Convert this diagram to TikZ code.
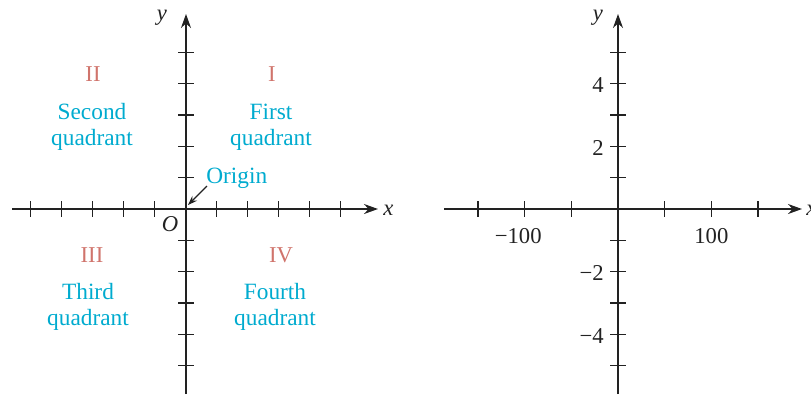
\documentclass[tikz,border=0pt]{standalone}
\usepackage{fontspec}
\setmainfont{Liberation Serif}
\usetikzlibrary{arrows.meta}
\definecolor{quadred}{HTML}{D0746C}
\definecolor{quadcyan}{HTML}{00ABCF}
\definecolor{axisgray}{HTML}{222222}
\begin{document}
\begin{tikzpicture}[x=0.75pt,y=-0.75pt,
 axis/.style={draw=axisgray,line width=1.2pt,-{Stealth[length=10.5pt,width=7.5pt]}},
 tickmark/.style={draw=axisgray,line width=1pt},
 roman/.style={text=quadred,font=\fontsize{17}{20}\selectfont,inner sep=0pt},
 qtext/.style={text=quadcyan,font=\fontsize{17.5}{19.5}\selectfont,align=center,inner sep=0pt},
 axlabel/.style={text=axisgray,font=\fontsize{17}{20}\selectfont\itshape,inner sep=0pt},
 numlabel/.style={text=axisgray,font=\fontsize{17}{20}\selectfont,inner sep=0pt}]
\useasboundingbox (0,0) rectangle (811,394);

% ---------- left plot ----------
\coordinate (Lxs) at (12,209);
\coordinate (Lxe) at (378,209);
\coordinate (Lys) at (186,394);
\coordinate (Lye) at (186,14);
\foreach \x in {30.5,61.5,92.5,123.5,154.5,216.5,247.5,278.5,309.5,340.5}
  \draw[tickmark] (\x,201) -- (\x,217);
\foreach \y in {52.5,83.8,115.1,146.4,177.7,240.3,271.6,302.9,334.2,365.5}
  \draw[tickmark] (178,\y) -- (194,\y);
\draw[axis] (Lxs) -- (Lxe);
\draw[axis] (Lys) -- (Lye);
\node[axlabel,anchor=west] (Lxl) at (383,210) {x};
\node[axlabel] (Lyl) at (162,18) {y};
\node[axlabel] (Ol) at (170,224) {O};

\node[roman] (q2) at (93,74) {II};
\node[roman] (q1) at (272,74) {I};
\node[roman] (q3) at (92,255) {III};
\node[roman] (q4) at (281,255) {IV};
\node[qtext] (t2) at (92,127) {Second\\quadrant};
\node[qtext] (t1) at (271,127) {First\\quadrant};
\node[qtext] (t3) at (88,307) {Third\\quadrant};
\node[qtext] (t4) at (275,307) {Fourth\\quadrant};

\node[qtext,anchor=west] (orig) at (206,178) {Origin};
\coordinate (oa) at (207,186);
\coordinate (ob) at (188,205);
\draw[draw=axisgray,line width=0.9pt,-{Stealth[length=7pt,width=5pt]}] (oa) -- (ob);

% ---------- right plot ----------
\coordinate (Rxs) at (444,209);
\coordinate (Rxe) at (802,209);
\coordinate (Rys) at (618,394);
\coordinate (Rye) at (618,14);
\foreach \x in {477.9,524.6,571.3,664.7,711.4,758.1}
  \draw[tickmark] (\x,201) -- (\x,217);
\foreach \y in {52.5,83.8,115.1,146.4,177.7,240.3,271.6,302.9,334.2,365.5}
  \draw[tickmark] (610,\y) -- (626,\y);
\draw[axis] (Rxs) -- (Rxe);
\draw[axis] (Rys) -- (Rye);
\node[axlabel,anchor=west] (Rxl) at (806,210) {x};
\node[axlabel] (Ryl) at (598,18) {y};

\node[numlabel] (m100) at (524.6,236) {\llap{−}100};
\node[numlabel] (p100) at (711.4,236) {100};
\node[numlabel,anchor=east] (n4) at (604,85) {4};
\node[numlabel,anchor=east] (n2) at (604,148) {2};
\node[numlabel,anchor=east] (nm2) at (604,273) {−2};
\node[numlabel,anchor=east] (nm4) at (604,336) {−4};
\end{tikzpicture}
\end{document}
